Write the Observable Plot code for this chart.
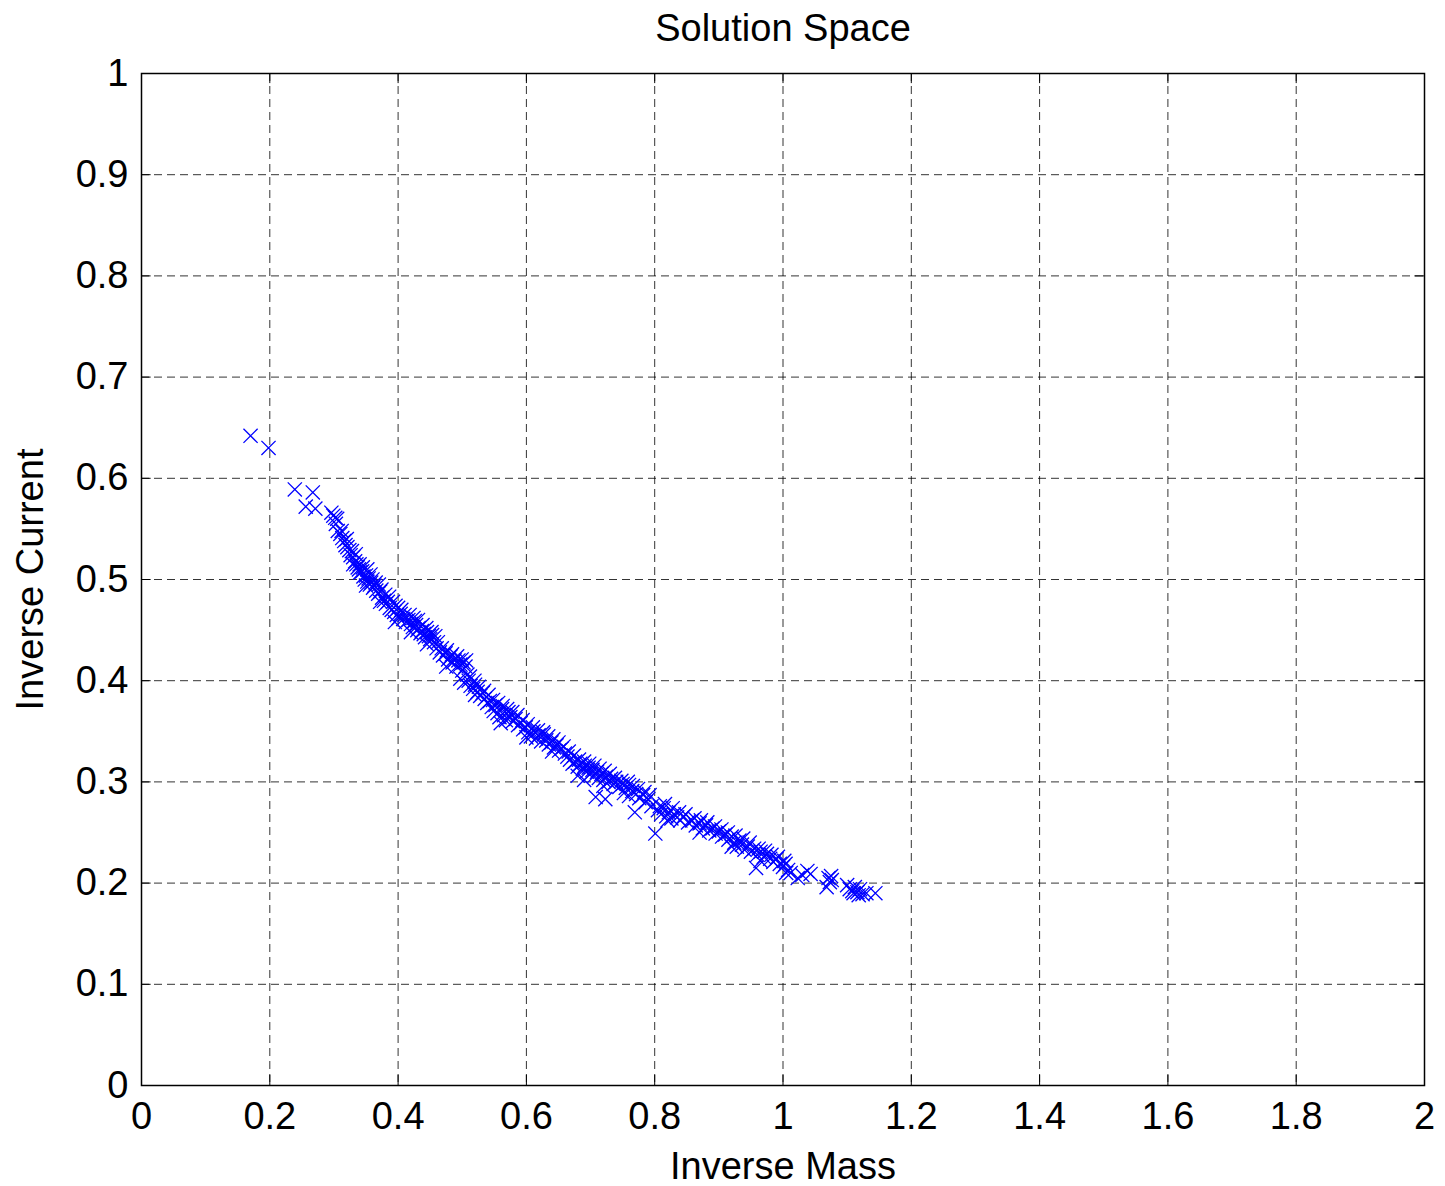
<!DOCTYPE html>
<html>
<head>
<meta charset="utf-8">
<script src="https://cdn.jsdelivr.net/npm/d3@7"></script>
<script src="https://cdn.jsdelivr.net/npm/@observablehq/plot@0.6"></script>
<style>
  html, body { margin: 0; padding: 0; background: #fff; }
</style>
</head>
<body>
<div id="chart"></div>
<script>
const titleText = "Solution Space";
const xLabel = "Inverse Mass";
const yLabel = "Inverse Current";
const xTicks = [0, 0.2, 0.4, 0.6, 0.8, 1, 1.2, 1.4, 1.6, 1.8, 2];
const yTicks = [0, 0.1, 0.2, 0.3, 0.4, 0.5, 0.6, 0.7, 0.8, 0.9, 1];

const inverseMass = [
  0.170,0.198,0.239,0.267,0.256,0.271,0.296,0.299,0.302,0.303,
  0.306,0.310,0.313,0.316,0.318,0.321,0.324,0.326,0.330,0.333,
  0.335,0.337,0.339,0.341,0.344,0.346,0.348,0.350,0.352,0.354,
  0.356,0.358,0.361,0.363,0.366,0.369,0.372,0.375,0.378,0.381,
  0.384,0.387,0.390,0.394,0.396,0.398,0.401,0.404,0.408,0.412,
  0.416,0.420,0.423,0.426,0.428,0.430,0.432,0.435,0.437,0.440,
  0.442,0.445,0.448,0.450,0.453,0.456,0.460,0.465,0.470,0.474,
  0.478,0.482,0.485,0.488,0.491,0.494,0.497,0.500,0.502,0.505,
  0.508,0.497,0.503,0.510,0.513,0.517,0.520,0.524,0.528,0.532,
  0.535,0.539,0.543,0.546,0.549,0.552,0.555,0.558,0.562,0.565,
  0.568,0.572,0.575,0.579,0.583,0.587,0.591,0.595,0.599,0.603,
  0.607,0.611,0.615,0.619,0.623,0.627,0.631,0.635,0.639,0.643,
  0.647,0.651,0.655,0.660,0.664,0.668,0.672,0.676,0.680,0.684,
  0.688,0.691,0.694,0.697,0.700,0.703,0.706,0.710,0.713,0.717,
  0.720,0.724,0.728,0.732,0.708,0.723,0.690,0.736,0.740,0.745,
  0.750,0.755,0.760,0.752,0.765,0.769,0.771,0.776,0.782,0.786,
  0.790,0.795,0.801,0.805,0.810,0.814,0.818,0.822,0.826,0.830,
  0.835,0.840,0.845,0.852,0.858,0.864,0.870,0.875,0.880,0.885,
  0.890,0.895,0.900,0.905,0.910,0.915,0.920,0.924,0.928,0.932,
  0.936,0.940,0.945,0.950,0.955,0.958,0.960,0.965,0.970,0.975,
  0.980,0.985,0.990,0.995,1.000,1.004,1.008,1.012,1.023,1.030,
  1.038,1.043,1.068,1.071,1.073,1.075,1.100,1.104,1.108,1.112,
  1.116,1.120,1.124,1.130,1.144,
  0.305,0.312,0.320,0.328,0.334,0.340,0.345,0.352,0.357,0.360,
  0.365,0.370,0.374,0.380,0.386,0.392,0.400,0.405,0.410,0.418,
  0.424,0.431,0.438,0.444,0.452,0.458,0.462,0.468,0.476,0.484,
  0.492,0.499,0.506,0.512,0.519,0.526,0.534,0.541,0.548,0.556,
  0.563,0.570,0.578,0.586,0.594,0.602,0.610,0.618,0.626,0.634,
  0.642,0.650,0.658,0.666,0.674,0.682,0.690,0.698,0.706,0.714,
  0.722,0.730,0.738,0.748,0.758,0.766,0.774,0.784,0.792,0.808,
  0.816,0.828,0.838,0.848,0.862,0.872,0.882,0.894,0.904,0.914,
  0.926,0.938,0.948,0.962,0.972,0.982,0.992,1.002,1.110,1.118,
  1.076,0.330,0.350,0.372,0.395,0.420,0.445,0.475,0.520,0.560,
  0.600,0.640,0.680,0.720,0.760,0.820,0.870,0.920,0.965,1.005
];
const inverseCurrent = [
  0.642,0.630,0.589,0.586,0.572,0.570,0.566,0.563,0.561,0.555,
  0.548,0.545,0.541,0.538,0.534,0.532,0.529,0.524,0.522,0.518,
  0.515,0.512,0.510,0.507,0.508,0.503,0.500,0.504,0.498,0.501,
  0.495,0.497,0.492,0.494,0.489,0.486,0.488,0.482,0.479,0.476,
  0.478,0.472,0.470,0.468,0.474,0.465,0.462,0.466,0.461,0.458,
  0.460,0.456,0.453,0.459,0.455,0.450,0.452,0.447,0.449,0.446,
  0.443,0.448,0.444,0.441,0.445,0.438,0.432,0.428,0.425,0.427,
  0.421,0.424,0.418,0.420,0.414,0.420,0.416,0.410,0.418,0.414,
  0.406,0.402,0.398,0.400,0.395,0.392,0.396,0.389,0.385,0.388,
  0.382,0.378,0.380,0.374,0.370,0.376,0.368,0.364,0.372,0.366,
  0.361,0.369,0.364,0.360,0.362,0.356,0.358,0.352,0.354,0.349,
  0.345,0.350,0.343,0.346,0.340,0.347,0.341,0.337,0.339,0.334,
  0.336,0.331,0.333,0.328,0.325,0.322,0.318,0.320,0.315,0.318,
  0.313,0.316,0.310,0.314,0.308,0.312,0.306,0.310,0.304,0.308,
  0.302,0.305,0.300,0.303,0.285,0.283,0.302,0.298,0.300,0.295,
  0.298,0.294,0.297,0.289,0.291,0.270,0.288,0.284,0.287,0.280,
  0.283,0.276,0.249,0.272,0.268,0.274,0.266,0.270,0.264,0.268,
  0.265,0.262,0.266,0.260,0.262,0.257,0.259,0.254,0.257,0.252,
  0.254,0.249,0.251,0.246,0.248,0.243,0.246,0.240,0.236,0.242,
  0.238,0.233,0.236,0.231,0.234,0.215,0.228,0.231,0.226,0.229,
  0.224,0.221,0.224,0.219,0.216,0.219,0.213,0.210,0.205,0.208,
  0.212,0.209,0.196,0.205,0.201,0.207,0.198,0.194,0.192,0.196,
  0.191,0.194,0.189,0.190,0.190,
  0.560,0.548,0.540,0.528,0.525,0.515,0.512,0.510,0.505,0.500,
  0.497,0.495,0.490,0.485,0.483,0.478,0.472,0.470,0.465,0.465,
  0.462,0.460,0.455,0.452,0.448,0.444,0.438,0.432,0.430,0.426,
  0.424,0.421,0.420,0.404,0.400,0.394,0.390,0.386,0.381,0.378,
  0.375,0.372,0.369,0.366,0.361,0.357,0.354,0.351,0.349,0.345,
  0.342,0.339,0.335,0.330,0.326,0.322,0.320,0.318,0.316,0.313,
  0.311,0.308,0.304,0.301,0.300,0.296,0.293,0.290,0.287,0.276,
  0.278,0.274,0.270,0.268,0.264,0.262,0.260,0.256,0.253,0.250,
  0.247,0.244,0.240,0.234,0.232,0.228,0.226,0.222,0.190,0.188,
  0.203,0.515,0.494,0.478,0.458,0.448,0.436,0.414,0.386,0.358,
  0.344,0.330,0.306,0.296,0.286,0.262,0.250,0.236,0.222,0.210
];

const points = inverseMass.map((x, i) => ({x, y: inverseCurrent[i]}));
const fmt = d => String(d);
const font = "'Liberation Sans', Arial, Helvetica, sans-serif";
const fs = 38;

const chart = Plot.plot({
  width: 1445,
  height: 1186,
  marginLeft: 141,
  marginRight: 21,
  marginTop: 73,
  marginBottom: 101,
  style: {fontFamily: font, fontSize: fs + "px", color: "#000", background: "#fff"},
  x: {domain: [0, 2]},
  y: {domain: [0, 1]},
  marks: [
    Plot.gridX(xTicks, {stroke: "#000", strokeOpacity: 0.8, strokeDasharray: "8,5", strokeWidth: 1}),
    Plot.gridY(yTicks, {stroke: "#000", strokeOpacity: 0.8, strokeDasharray: "8,5", strokeWidth: 1}),
    Plot.axisX(xTicks, {tickSize: 0, tickPadding: 17, tickFormat: fmt, label: null, fontSize: fs}),
    Plot.axisY(yTicks, {tickSize: 0, tickPadding: 13, tickFormat: fmt, label: null, fontSize: fs}),
    Plot.ruleX(xTicks, {x: d => d, y1: 0, y2: 0.01, stroke: "#000"}),
    Plot.ruleX(xTicks, {x: d => d, y1: 0.99, y2: 1, stroke: "#000"}),
    Plot.ruleY(yTicks, {y: d => d, x1: 0, x2: 0.015, stroke: "#000"}),
    Plot.ruleY(yTicks, {y: d => d, x1: 1.985, x2: 2, stroke: "#000"}),
    Plot.dot(points, {x: "x", y: "y", symbol: "times", r: 6.5, stroke: "#0000ff", strokeWidth: 1.3}),
    Plot.frame({stroke: "#000", strokeWidth: 1.5}),
    Plot.text([titleText], {frameAnchor: "top", lineAnchor: "middle", dy: -45, fontSize: fs, fill: "#000"}),
    Plot.text([xLabel], {frameAnchor: "bottom", lineAnchor: "middle", dy: 81, fontSize: fs, fill: "#000"}),
    Plot.text([yLabel], {frameAnchor: "left", textAnchor: "middle", lineAnchor: "middle", dx: -111, rotate: -90, fontSize: fs, fill: "#000"})
  ]
});
document.getElementById("chart").appendChild(chart);
</script>
</body>
</html>
